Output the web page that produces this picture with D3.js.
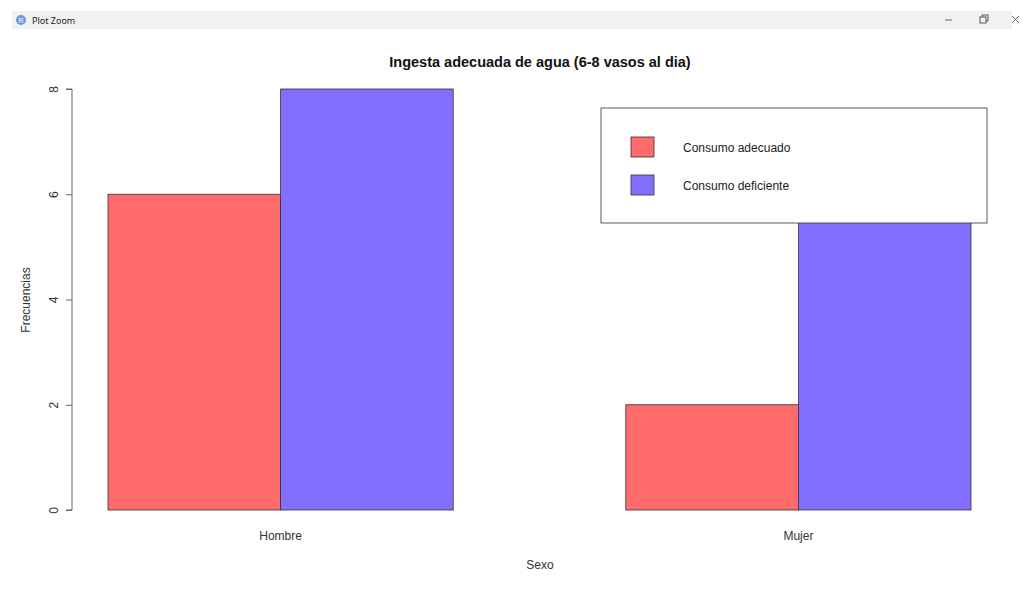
<!DOCTYPE html>
<html>
<head>
<meta charset="utf-8">
<script src="https://cdn.jsdelivr.net/npm/d3@7"></script>
<style>
  html, body { margin: 0; padding: 0; background: #ffffff; }
  svg { display: block; }
</style>
</head>
<body>
<svg id="chart" width="1023" height="599"></svg>
<script>
// Frequencies of water intake by sex
const categories = ["Hombre", "Mujer"];
const seriesNames = ["Consumo adecuado", "Consumo deficiente"];
const adecuado = [6, 2];
const deficiente = [8, 7];
const yTicks = [0, 2, 4, 6, 8];
const seriesColors = ["#FF6A6A", "#836FFF"];

const svg = d3.select("#chart");
const font = "'Liberation Sans', Arial, sans-serif";

// Window title bar
svg.append("rect").attr("x", 12).attr("y", 11).attr("width", 1000).attr("height", 18)
  .attr("fill", "#f1f1f1");
svg.append("circle").attr("cx", 21).attr("cy", 20).attr("r", 5).attr("fill", "#6a9be0");
svg.append("text").attr("x", 21).attr("y", 23).attr("text-anchor", "middle")
  .attr("font-family", font).attr("font-size", 7).attr("fill", "#fff").text("R");
svg.append("text").attr("x", 32).attr("y", 24).attr("font-family", "'Noto Sans', sans-serif")
  .attr("font-size", 9).attr("fill", "#222").text("Plot Zoom");
svg.append("line").attr("x1", 945).attr("x2", 952).attr("y1", 20).attr("y2", 20)
  .attr("stroke", "#666").attr("stroke-width", 1);
svg.append("rect").attr("x", 980).attr("y", 17).attr("width", 6).attr("height", 6)
  .attr("fill", "none").attr("stroke", "#555").attr("stroke-width", 1);
svg.append("path").attr("d", "M982,17 V15 H988 V21 H986").attr("fill", "none")
  .attr("stroke", "#555").attr("stroke-width", 1);
svg.append("path").attr("d", "M1012,16 L1019,23 M1019,16 L1012,23").attr("fill", "none")
  .attr("stroke", "#666").attr("stroke-width", 1);

// Scales
const y = d3.scaleLinear().domain([0, 8]).range([510, 89]);
const x0 = d3.scaleBand().domain(categories).range([108, 971])
  .paddingInner(1 / 3).paddingOuter(0);
const x1 = d3.scaleBand().domain(seriesNames).range([0, x0.bandwidth()]);
const color = d3.scaleOrdinal().domain(seriesNames).range(seriesColors);

const rows = categories.map((c, i) => ({
  cat: c,
  values: [
    { key: seriesNames[0], value: adecuado[i] },
    { key: seriesNames[1], value: deficiente[i] }
  ]
}));

// Bars
const groups = svg.append("g").selectAll("g").data(rows).join("g")
  .attr("transform", d => `translate(${x0(d.cat)},0)`);
groups.selectAll("rect").data(d => d.values).join("rect")
  .attr("x", d => x1(d.key))
  .attr("y", d => y(d.value))
  .attr("width", x1.bandwidth())
  .attr("height", d => y(0) - y(d.value))
  .attr("fill", d => color(d.key))
  .attr("stroke", "#333")
  .attr("stroke-width", 0.8);

// Y axis
const yAxis = svg.append("g").attr("transform", "translate(72,0)")
  .call(d3.axisLeft(y).tickValues(yTicks).tickSize(6).tickFormat(d3.format("d")));
yAxis.select(".domain").attr("stroke", "#666").attr("d", `M-6,${y(0)}H0V${y(8)}H-6`);
yAxis.selectAll(".tick line").attr("stroke", "#666");
yAxis.selectAll(".tick text")
  .attr("font-family", font).attr("font-size", 12).attr("fill", "#333")
  .attr("transform", "rotate(-90)")
  .attr("x", 0).attr("y", -14)
  .attr("dy", "0")
  .attr("text-anchor", "middle");

// Category labels
svg.append("g").selectAll("text").data(categories).join("text")
  .attr("x", d => x0(d) + x0.bandwidth() / 2)
  .attr("y", 540)
  .attr("text-anchor", "middle")
  .attr("font-family", font).attr("font-size", 12).attr("fill", "#333")
  .text(d => d);

// Axis titles and chart title
svg.append("text").attr("x", 540).attr("y", 569).attr("text-anchor", "middle")
  .attr("font-family", font).attr("font-size", 12).attr("fill", "#333").text("Sexo");
svg.append("text").attr("transform", "translate(30,300) rotate(-90)")
  .attr("text-anchor", "middle").attr("font-family", font).attr("font-size", 12)
  .attr("fill", "#333").text("Frecuencias");
svg.append("text").attr("x", 540).attr("y", 67).attr("text-anchor", "middle")
  .attr("font-family", font).attr("font-size", 14.5).attr("font-weight", "bold")
  .attr("fill", "#111").text("Ingesta adecuada de agua (6-8 vasos al dia)");

// Legend
const legend = svg.append("g");
legend.append("rect").attr("x", 601).attr("y", 108).attr("width", 386).attr("height", 115)
  .attr("fill", "#fff").attr("stroke", "#333").attr("stroke-width", 0.8);
const items = legend.selectAll("g").data(seriesNames).join("g")
  .attr("transform", (d, i) => `translate(0,${137 + i * 38})`);
items.append("rect").attr("x", 631).attr("y", 0).attr("width", 23).attr("height", 20)
  .attr("fill", d => color(d)).attr("stroke", "#333").attr("stroke-width", 0.8);
items.append("text").attr("x", 683).attr("y", 15)
  .attr("font-family", font).attr("font-size", 12).attr("fill", "#222").text(d => d);
</script>
</body>
</html>
